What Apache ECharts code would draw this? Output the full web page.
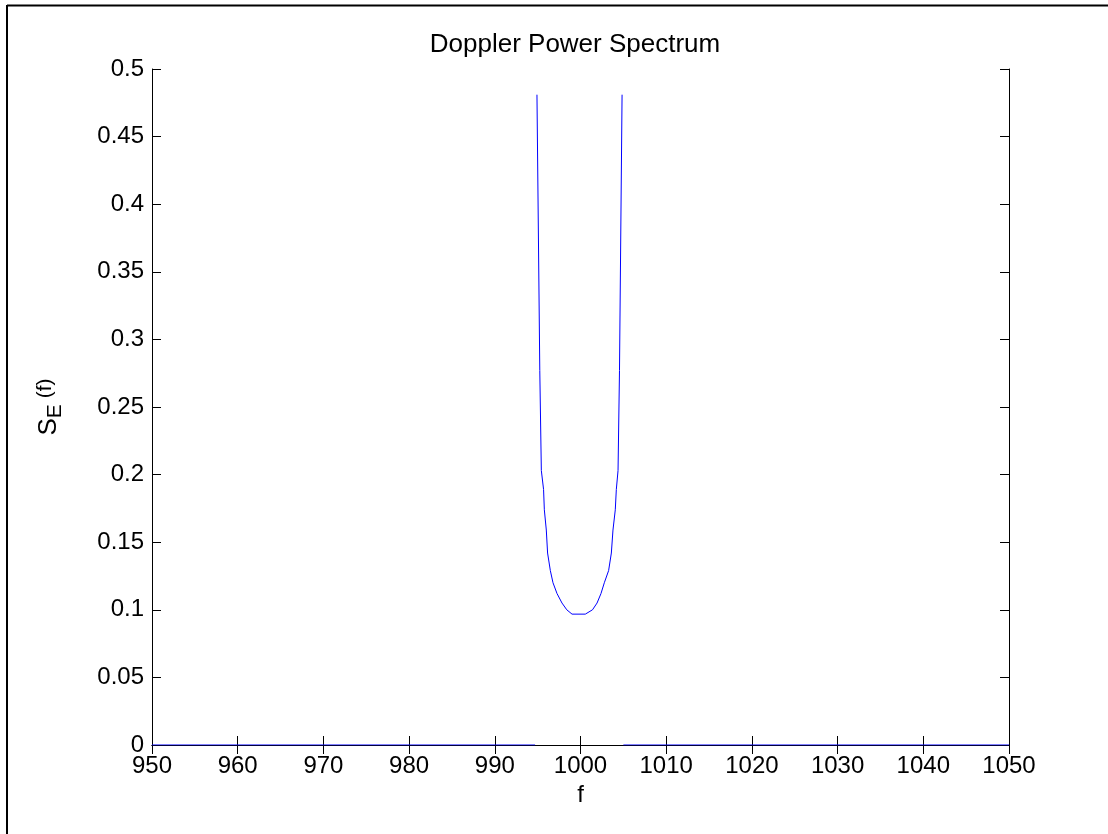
<!DOCTYPE html>
<html><head><meta charset="utf-8">
<script src="https://cdn.jsdelivr.net/npm/echarts@6/dist/echarts.min.js"></script>
<style>html,body{margin:0;padding:0;background:#fff}#c{width:1108px;height:834px}</style>
</head><body><div id="c"></div>
<script>
// ---- data ----
const xTickLabels = ['950','960','970','980','990','1000','1010','1020','1030','1040','1050'];
const yTickLabels = ['0','0.05','0.1','0.15','0.2','0.25','0.3','0.35','0.4','0.45','0.5'];

const baseLeftF  = [950, 994.7];
const baseLeftS  = [0, 0];

const curveF = [994.92, 995.25, 995.43, 995.69, 995.78, 996.01, 996.16, 996.48, 996.79, 997.26, 997.84, 998.4, 999.01,
                1000.56, 1001.4, 1001.93, 1002.39, 1002.78, 1003.28, 1003.6, 1003.79, 1004.06, 1004.18, 1004.38, 1004.55, 1004.85];
const curveS = [0.481, 0.277, 0.203, 0.189, 0.174, 0.159, 0.142, 0.129, 0.120, 0.112, 0.105, 0.100, 0.0968,
                0.0968, 0.100, 0.105, 0.112, 0.120, 0.129, 0.142, 0.159, 0.174, 0.189, 0.203, 0.277, 0.481];

const baseRightF = [1005.0, 1050];
const baseRightS = [0, 0];

const FONT = 'Liberation Sans';

function pairs(f, s) { return f.map((v, i) => [v, s[i]]); }

const lineStyle = { color: '#0000ff', width: 1 };
function mkSeries(f, s) {
  return { type: 'line', data: pairs(f, s), showSymbol: false, symbol: 'none',
           lineStyle: lineStyle, itemStyle: { color: '#0000ff' }, animation: false, z: 3 };
}

const axisCommon = {
  axisLine: { show: true, lineStyle: { color: '#000', width: 1 } },
  axisTick: { show: true, inside: true, length: 9, lineStyle: { color: '#000', width: 1 } },
  splitLine: { show: false }
};

const chart = echarts.init(document.getElementById('c'), null, { renderer: 'canvas' });
chart.setOption({
  backgroundColor: '#fff',
  animation: false,
  title: {
    text: 'Doppler Power Spectrum',
    left: 570, top: 27, textAlign: 'center',
    textStyle: { fontFamily: FONT, fontSize: 26, fontWeight: 'normal', color: '#000' }
  },
  grid: { left: 152, right: 99, top: 69, bottom: 89, containLabel: false },
  xAxis: [
    Object.assign({}, axisCommon, {
      type: 'value', min: 950, max: 1050, interval: 10, position: 'bottom',
      axisLabel: { color: '#000', fontFamily: FONT, fontSize: 24, margin: 9,
        formatter: v => xTickLabels[Math.round((v - 950) / 10)] },
      name: 'f', nameLocation: 'middle', nameGap: 28,
      nameTextStyle: { color: '#000', fontFamily: FONT, fontSize: 24 }
    }),
    Object.assign({}, axisCommon, {
      type: 'value', min: 950, max: 1050, interval: 10, position: 'top',
      axisLabel: { show: false }
    })
  ],
  yAxis: [
    Object.assign({}, axisCommon, {
      type: 'value', min: 0, max: 0.5, interval: 0.05, position: 'left',
      axisLabel: { color: '#000', fontFamily: FONT, fontSize: 24, margin: 8,
        formatter: v => yTickLabels[Math.round(v / 0.05)] },
      name: '{s|S}{e|E}{f| (f)}', nameLocation: 'middle', nameGap: 86, nameRotate: 90,
      nameTextStyle: {
        color: '#000', fontFamily: FONT, fontSize: 24,
        rich: {
          s: { fontFamily: FONT, fontSize: 26, color: '#000' },
          e: { fontFamily: FONT, fontSize: 21, color: '#000', padding: [14, 0, 0, 0] },
          f: { fontFamily: FONT, fontSize: 21, color: '#000', padding: [0, 0, 6, 0] }
        }
      }
    }),
    Object.assign({}, axisCommon, {
      type: 'value', min: 0, max: 0.5, interval: 0.05, position: 'right',
      axisLabel: { show: false }
    })
  ],
  series: [
    mkSeries(baseLeftF, baseLeftS),
    mkSeries(curveF, curveS),
    mkSeries(baseRightF, baseRightS)
  ],
  graphic: [
    { type: 'line', shape: { x1: 7, y1: 5.5, x2: 1108, y2: 5.5 }, style: { stroke: '#000', lineWidth: 2 }, silent: true },
    { type: 'line', shape: { x1: 7, y1: 5, x2: 7, y2: 834 }, style: { stroke: '#000', lineWidth: 2 }, silent: true }
  ]
});
</script>
</body></html>
